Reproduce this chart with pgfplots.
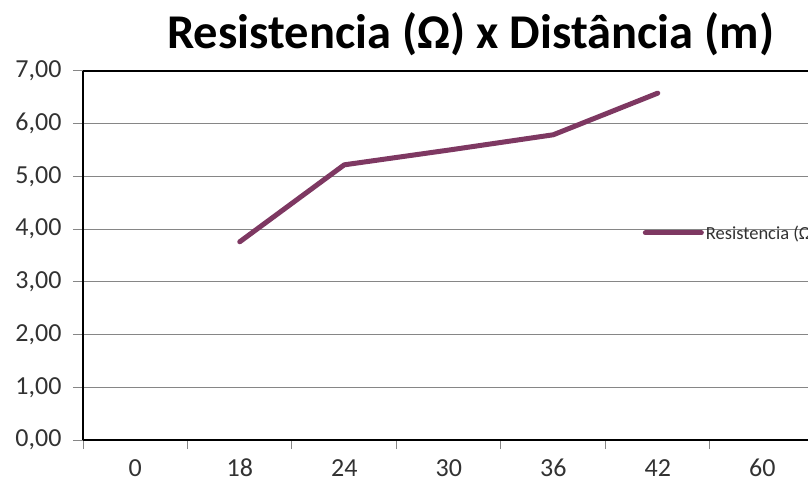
\documentclass[border=0pt]{standalone}
\usepackage{pgfplots}
\pgfplotsset{compat=1.18}
\usepackage{fontspec}
\setmainfont{Carlito}
\definecolor{serie}{RGB}{126,56,98}
\definecolor{grade}{RGB}{134,134,134}
\definecolor{rotulo}{RGB}{50,50,50}
\begin{document}
\begin{tikzpicture}
  \path[use as bounding box] (0,0) rectangle (808bp,486bp);
  \begin{axis}[
      at={(83bp,46bp)}, anchor=south west,
      scale only axis,
      width=731.5bp, height=369bp,
      xmin=-0.5, xmax=6.5,
      ymin=0, ymax=7,
      xtick={0,...,6},
      xticklabels={0,18,24,30,36,42,60},
      minor xtick={-0.5,0.5,...,6.5},
      ytick={0,1,...,7},
      major x tick style={draw=none},
      minor x tick style={draw=grade, line width=1bp},
      minor tick length=9bp,
      major tick length=10bp,
      y tick style={draw=grade, line width=1bp},
      tick align=outside,
      axis line style={black, line width=2bp},
      axis x line*=bottom,
      axis y line*=left,
      ymajorgrids,
      grid style={grade, line width=1.2bp},
      /pgf/number format/.cd, fixed, fixed zerofill, precision=2, use comma, assume math mode=true,
      /pgfplots/.cd,
      ticklabel style={font=\fontsize{26bp}{29bp}\selectfont, text=rotulo},
      yticklabel style={xshift=-8bp},
      xticklabel style={yshift=-8bp, inner sep=1bp},
      title={Resistencia (Ω) x Distância (m)},
      title style={at={(0.530,1.046)}, anchor=base, font=\fontsize{48.5bp}{50bp}\selectfont\bfseries},
      legend style={at={(0.761,0.561)}, anchor=west, draw=none, fill=none,
        font=\fontsize{18.5bp}{20bp}\selectfont, text=rotulo},
      legend image code/.code={\draw[#1, line width=5bp, line cap=round] (0bp,0bp) -- (56bp,0bp);},
      clip=false,
    ]
    \addplot[serie, line width=5bp, line join=round, line cap=round] coordinates {
      (1,3.76) (2,5.22) (3,5.50) (4,5.79) (5,6.58)
    };
    \addlegendentry{Resistencia (Ω)}
    \draw[black, line width=2.5bp] (rel axis cs:0,1) -- (rel axis cs:1,1);
  \end{axis}
\end{tikzpicture}
\end{document}
